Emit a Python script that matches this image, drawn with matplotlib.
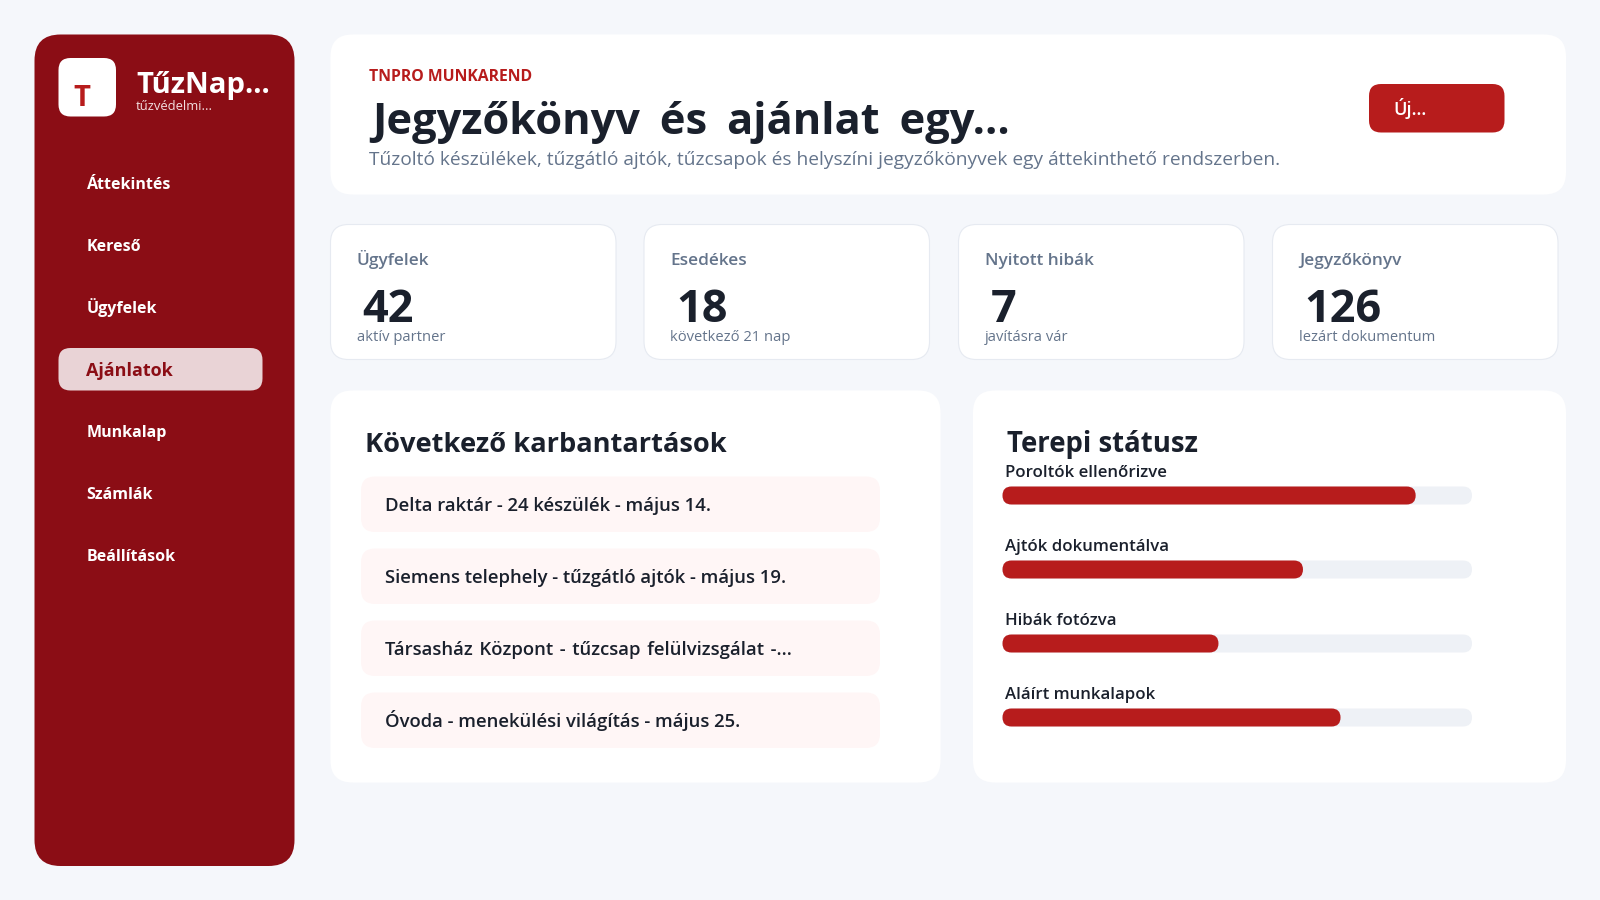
import matplotlib
matplotlib.use('Agg')
import matplotlib.pyplot as plt
from matplotlib.patches import FancyBboxPatch, Rectangle

plt.rcParams['font.family'] = ['Open Sans', 'DejaVu Sans']

# --- content ---
brand_name = 'TűzNap...'
brand_sub = 'tűzvédelmi...'
nav_items = ['Áttekintés', 'Kereső', 'Ügyfelek', 'Ajánlatok', 'Munkalap', 'Számlák', 'Beállítások']
active_nav = 'Ajánlatok'

eyebrow = 'TNPRO MUNKAREND'
# the reference has wide word gaps here, space + thin space gets close
page_title = 'Jegyzőkönyv \u2009és \u2009ajánlat \u2009egy...'
page_sub = 'Tűzoltó készülékek, tűzgátló ajtók, tűzcsapok és helyszíni jegyzőkönyvek egy áttekinthető rendszerben.'
button_text = 'Új...'

stat_labels = ['Ügyfelek', 'Esedékes', 'Nyitott hibák', 'Jegyzőkönyv']
stat_values = ['42', '18', '7', '126']
stat_subs = ['aktív partner', 'következő 21 nap', 'javításra vár', 'lezárt dokumentum']

list_title = 'Következő karbantartások'
list_items = ['Delta raktár - 24 készülék - május 14.',
              'Siemens telephely - tűzgátló ajtók - május 19.',
              'Társasház \u200aKözpont \u200a- \u200atűzcsap \u200afelülvizsgálat \u200a-...',
              'Óvoda - menekülési világítás - május 25.']

status_title = 'Terepi státusz'
status_labels = ['Poroltók ellenőrizve', 'Ajtók dokumentálva', 'Hibák fotózva', 'Aláírt munkalapok']
status_values = [88, 64, 46, 72]

# --- colours ---
BG = '#F5F7FB'
DARK_RED = '#8B0D15'
RED = '#B71C1C'
INK = '#1A202C'
MUTED = '#64748B'
BORDER = '#E6EAF1'
ROW = '#FFF6F6'
TRACK = '#EEF1F6'
PILL = '#E9D3D6'

fig = plt.figure(figsize=(16, 9), dpi=100, facecolor=BG)
ax = fig.add_axes([0, 0, 1, 1])
ax.set_xlim(0, 1600)
ax.set_ylim(900, 0)
ax.axis('off')


def box(x0, y0, x1, y1, r, color, edge='none', lw=0, z=1):
    p = FancyBboxPatch((x0, y0), x1 - x0, y1 - y0, boxstyle=f'round,pad=0,rounding_size={r}',
                       facecolor=color, edgecolor=edge, linewidth=lw, zorder=z)
    ax.add_patch(p)
    return p


def label(x, y, s, px, color=INK, weight=600):
    # y is the baseline, sizes in pixels (at dpi 100 that is px * 0.72 pt)
    return ax.text(x, y, s, fontsize=px * 0.72, color=color, fontweight=weight, va='baseline', ha='left', zorder=5)


# sidebar
box(34.5, 34.5, 294.5, 866, 26, DARK_RED)
box(58.5, 58, 116, 116.5, 12, 'white', z=2)
ax.text(81.5, 105.5, 'T', fontsize=21, color=RED, fontweight='bold', ha='center', va='baseline', zorder=5)
label(136, 93.5, brand_name, 29.3, 'white', 'bold')
label(136, 110, brand_sub, 13, '#F3DFE0', 'normal')

nav_y = [189, 251, 313, 376, 437, 499, 561]
for name, y in zip(nav_items, nav_y):
    if name == active_nav:
        box(58.5, 348, 262.5, 390.5, 12, PILL, z=2)
        label(86.5, y, name, 18, DARK_RED, 'bold')
    else:
        label(86.5, y, name, 16, 'white', 'bold')

# header card
box(330.5, 34.5, 1566, 194.5, 22, 'white')
label(369, 81, eyebrow, 15.7, RED, 'bold')
title = label(372, 134.5, page_title, 43.4, INK, 'bold')
title.set_clip_path(Rectangle((330, 90), 1200, 49.5, transform=ax.transData))
label(369, 165, page_sub, 19.2, MUTED, 'normal')
box(1369, 84, 1504.5, 132.5, 12, RED)
label(1393, 115, button_text, 18, 'white', 600)

# stat cards
card_x = [330.5, 644, 958.5, 1272.5]
card_w = 285.5
for x, lab, val, sub in zip(card_x, stat_labels, stat_values, stat_subs):
    box(x, 224.5, x + card_w, 359.5, 18, 'white', BORDER, 0.8)
    label(x + 26.5, 265, lab, 17.2, MUTED, 600)
    label(x + 32, 321.5, val, 45, INK, 'bold')
    label(x + 26.5, 341, sub, 14.7, MUTED, 'normal')

# lower cards
box(330.5, 390.5, 940.5, 782.5, 22, 'white')
box(973, 390.5, 1566, 782.5, 22, 'white')

label(365, 452, list_title, 27.2, INK, 'bold')
row_y = [476.5, 548.5, 620.5, 692.5]
for y, item in zip(row_y, list_items):
    box(361, y, 880, y + 55.5, 14, ROW)
    label(385, y + 34.8, item, 18.5, INK, 600)

label(1007, 452, status_title, 27.5, INK, 'bold')
track_x0, track_x1 = 1002.5, 1472
track_y = [486.5, 560.5, 634.5, 708.5]
for y, lab, val in zip(track_y, status_labels, status_values):
    label(1005, y - 9.2, lab, 16.7, INK, 600)
    box(track_x0, y, track_x1, y + 18, 9, TRACK, z=2)
    box(track_x0, y, track_x0 + (track_x1 - track_x0) * val / 100, y + 18, 9, RED, z=3)

fig.savefig('out.png', dpi=100, facecolor=BG)
